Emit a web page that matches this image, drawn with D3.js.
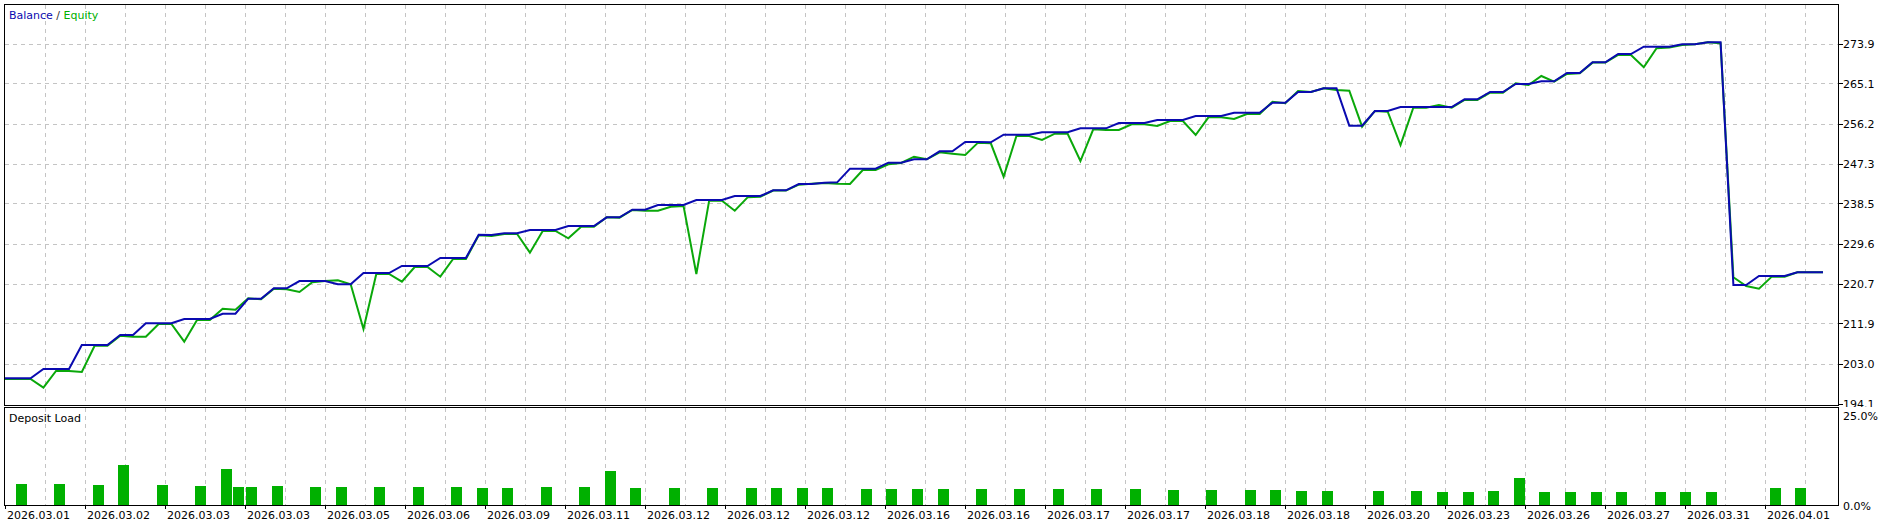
<!DOCTYPE html>
<html>
<head>
<meta charset="utf-8">
<script src="https://cdn.jsdelivr.net/npm/d3@7"></script>
<style>
html, body { margin: 0; padding: 0; background: #fff; }
svg { display: block; font-family: "DejaVu Sans", Verdana, sans-serif; font-size: 11px; }
</style>
</head>
<body>
<svg id="canvas" width="1893" height="525"></svg>
<script>
// balance / equity per deal step
let balance = [
  199.86, 199.86, 199.86, 201.92, 201.92, 201.92, 207.25, 207.25, 207.25, 209.46,
  209.46, 212.06, 212.06, 212.06, 213.01, 213.01, 213.01, 214.18, 214.18, 217.51,
  217.51, 219.81, 219.81, 221.43, 221.43, 221.43, 220.70, 220.70, 223.20, 223.20,
  223.20, 224.76, 224.76, 224.76, 226.53, 226.53, 226.53, 231.70, 231.63, 232.01,
  232.01, 232.74, 232.74, 232.74, 233.62, 233.62, 233.62, 235.55, 235.55, 237.24,
  237.24, 238.28, 238.28, 238.28, 239.39, 239.39, 239.39, 240.27, 240.27, 240.27,
  241.54, 241.54, 242.93, 242.93, 243.22, 243.30, 246.33, 246.33, 246.33, 247.66,
  247.66, 248.41, 248.41, 250.18, 250.18, 252.24, 252.24, 252.18, 253.86, 253.86,
  253.86, 254.39, 254.39, 254.39, 255.28, 255.28, 255.28, 256.46, 256.46, 256.46,
  257.12, 257.12, 257.12, 258.01, 258.01, 258.01, 258.74, 258.74, 258.74, 260.96,
  260.96, 263.33, 263.33, 264.15, 264.15, 255.86, 255.86, 259.12, 259.12, 260.00,
  260.00, 260.00, 260.00, 260.00, 261.71, 261.71, 263.33, 263.33, 265.10, 265.10,
  265.70, 265.70, 267.54, 267.54, 269.91, 269.91, 271.75, 271.75, 273.37, 273.37,
  273.37, 273.90, 273.90, 274.35, 274.35, 220.55, 220.55, 222.54, 222.54, 222.54,
  223.36, 223.36, 223.36
]

let equity = [
  199.71, 199.71, 199.71, 197.78, 201.55, 201.50, 201.26, 207.09, 207.09, 209.30,
  209.09, 209.09, 211.90, 211.90, 207.98, 212.79, 212.79, 215.29, 215.07, 217.60,
  217.38, 219.73, 219.60, 219.00, 221.14, 221.43, 221.59, 220.70, 210.79, 222.98,
  222.98, 221.28, 224.54, 224.54, 222.39, 226.30, 226.30, 231.56, 231.41, 231.85,
  231.85, 227.71, 232.52, 232.52, 230.90, 233.47, 233.47, 235.55, 235.48, 237.17,
  237.02, 237.02, 237.90, 238.05, 222.98, 239.24, 239.24, 237.02, 239.97, 240.12,
  241.47, 241.47, 242.78, 243.00, 243.15, 243.00, 242.93, 246.04, 246.04, 247.30,
  247.60, 248.99, 248.41, 249.96, 249.66, 249.36, 252.10, 251.96, 244.55, 253.57,
  253.57, 252.69, 254.08, 254.08, 248.03, 255.06, 254.90, 254.90, 256.17, 256.17,
  255.79, 256.90, 256.90, 253.80, 257.72, 257.72, 257.34, 258.45, 258.45, 261.18,
  260.82, 263.55, 263.33, 264.15, 263.77, 263.62, 255.64, 259.12, 258.96, 251.58,
  259.85, 259.85, 260.45, 259.85, 261.56, 261.56, 263.17, 263.17, 265.26, 264.88,
  266.88, 265.63, 267.32, 267.47, 269.84, 269.84, 271.53, 271.53, 268.80, 273.02,
  273.17, 273.75, 273.90, 274.35, 274.13, 222.25, 220.32, 219.73, 222.40, 222.40,
  223.36, 223.36, 223.36
]

// deposit load bars: step where it happens and its percent
let loadStep = [
  1, 4, 7, 9, 12, 15, 17, 18, 19, 21, 24, 26, 29, 32, 35, 37, 39, 42, 45, 47,
  49, 52, 55, 58, 60, 62, 64, 67, 69, 71, 73, 76, 79, 82, 85, 88, 91, 94, 97, 99,
  101, 103, 107, 110, 112, 114, 116, 118, 120, 122, 124, 126, 129, 131, 133, 138, 140
]
let loadPct = [
  5.93, 5.93, 5.65, 11.22, 5.65, 5.37, 10.10, 5.09, 5.09, 5.37, 5.09, 5.09, 5.09, 5.09, 5.09, 4.82, 4.82, 5.09, 5.09, 9.55,
  4.82, 4.82, 4.82, 4.82, 4.82, 4.82, 4.82, 4.54, 4.54, 4.54, 4.54, 4.54, 4.54, 4.54, 4.54, 4.54, 4.26, 4.26, 4.26, 4.26,
  3.98, 3.98, 3.98, 3.98, 3.70, 3.70, 3.98, 7.60, 3.70, 3.70, 3.70, 3.70, 3.70, 3.70, 3.70, 4.82, 4.82
]

let dateLabels = [
  '2026.03.01', '2026.03.02', '2026.03.03', '2026.03.03', '2026.03.05', '2026.03.06',
  '2026.03.09', '2026.03.11', '2026.03.12', '2026.03.12', '2026.03.12', '2026.03.16',
  '2026.03.16', '2026.03.17', '2026.03.17', '2026.03.18', '2026.03.18', '2026.03.20',
  '2026.03.23', '2026.03.26', '2026.03.27', '2026.03.31', '2026.04.01'
]
let priceLabels = ['194.1', '203.0', '211.9', '220.7', '229.6', '238.5', '247.3', '256.2', '265.1', '273.9']
let loadLabels = ['0.0%', '25.0%']

let canvas = d3.select('#canvas')

let plotLeft = 4, plotRight = 1838
let mainTop = 4, mainBottom = 405
let subTop = 407, subBottom = 505
let gridStep = 40, labelStep = 80
let gridColor = '#c4c4c4'
let gridDash = '4,4'
let balanceColor = '#0a0ab0'
let equityColor = '#0aa80a'

let x = d3.scaleLinear().domain([0, balance.length - 1]).range([5, 1823])
let y = d3.scaleLinear().domain([+priceLabels[0], +priceLabels[priceLabels.length - 1]]).range([404.3, 44.3])
let yLoad = d3.scaleLinear().domain([0, 25]).range([505.3, 415.5])

let crisp = (v) => Math.round(v) + 0.5

// vertical grid
let gridX = d3.range(plotLeft + 1 + gridStep, plotRight, gridStep)
canvas.append('g')
  .selectAll('line')
  .data(gridX)
  .enter()
  .append('line')
  .attr('x1', d => d + 0.5).attr('x2', d => d + 0.5)
  .attr('y1', mainTop + 1).attr('y2', mainBottom)
  .attr('stroke', gridColor).attr('stroke-dasharray', gridDash)
canvas.append('g')
  .selectAll('line')
  .data(gridX)
  .enter()
  .append('line')
  .attr('x1', d => d + 0.5).attr('x2', d => d + 0.5)
  .attr('y1', subTop + 1).attr('y2', subBottom)
  .attr('stroke', gridColor).attr('stroke-dasharray', gridDash)

// horizontal grid
canvas.append('g')
  .selectAll('line')
  .data(priceLabels.slice(1))
  .enter()
  .append('line')
  .attr('x1', plotLeft + 1).attr('x2', plotRight)
  .attr('y1', d => crisp(y(+d) - 0.5)).attr('y2', d => crisp(y(+d) - 0.5))
  .attr('stroke', gridColor).attr('stroke-dasharray', gridDash)

// deposit load bars
canvas.append('g')
  .selectAll('rect')
  .data(loadStep)
  .enter()
  .append('rect')
  .attr('x', d => Math.round(x(d)) - 2)
  .attr('width', 11)
  .attr('y', (d, i) => Math.round(yLoad(loadPct[i])))
  .attr('height', (d, i) => 505 - Math.round(yLoad(loadPct[i])))
  .attr('fill', '#00b000')

// equity then balance
let line = d3.line().x((d, i) => x(i)).y(d => y(d))
canvas.append('path')
  .attr('d', line(equity))
  .attr('fill', 'none')
  .attr('stroke', equityColor)
  .attr('stroke-width', 2)
canvas.append('path')
  .attr('d', line(balance))
  .attr('fill', 'none')
  .attr('stroke', balanceColor)
  .attr('stroke-width', 2)

// frames
canvas.append('rect')
  .attr('x', plotLeft + 0.5).attr('y', mainTop + 0.5)
  .attr('width', plotRight - plotLeft).attr('height', mainBottom - mainTop)
  .attr('fill', 'none').attr('stroke', '#000')
canvas.append('rect')
  .attr('x', plotLeft + 0.5).attr('y', subTop + 0.5)
  .attr('width', plotRight - plotLeft).attr('height', subBottom - subTop)
  .attr('fill', 'none').attr('stroke', '#000')

// right price axis
let priceAxis = canvas.append('g')
priceAxis.selectAll('line')
  .data(priceLabels)
  .enter()
  .append('line')
  .attr('x1', plotRight + 1).attr('x2', plotRight + 5)
  .attr('y1', d => crisp(y(+d) - 0.5)).attr('y2', d => crisp(y(+d) - 0.5))
  .attr('stroke', '#000')
priceAxis.selectAll('text')
  .data(priceLabels)
  .enter()
  .append('text')
  .attr('x', plotRight + 5)
  .attr('y', d => y(+d) + 4)
  .attr('fill', '#000')
  .text(d => d)

// lower panel covers the bottom of the last price label
canvas.append('rect')
  .attr('x', plotRight + 1).attr('y', subTop)
  .attr('width', 1893 - plotRight).attr('height', 525 - subTop)
  .attr('fill', '#fff')

canvas.append('g')
  .selectAll('text')
  .data(loadLabels)
  .enter()
  .append('text')
  .attr('x', plotRight + 5)
  .attr('y', d => yLoad(parseFloat(d)) + 4.2)
  .attr('fill', '#000')
  .text(d => d)

// date axis
let dateX = (i) => plotLeft + 1 + i * labelStep
canvas.append('g')
  .selectAll('line')
  .data(dateLabels)
  .enter()
  .append('line')
  .attr('x1', (d, i) => dateX(i) + 0.5).attr('x2', (d, i) => dateX(i) + 0.5)
  .attr('y1', subBottom).attr('y2', subBottom + 4)
  .attr('stroke', '#000')
canvas.append('g')
  .selectAll('text')
  .data(dateLabels)
  .enter()
  .append('text')
  .attr('x', (d, i) => dateX(i) + 2)
  .attr('y', 518.5)
  .attr('fill', '#000')
  .text(d => d)

// titles
let title = canvas.append('text').attr('x', 9).attr('y', 19)
title.append('tspan').attr('fill', balanceColor).text('Balance')
title.append('tspan').attr('fill', '#333').text(' / ')
title.append('tspan').attr('fill', '#00b000').text('Equity')

canvas.append('text')
  .attr('x', 9).attr('y', 421.5)
  .attr('fill', '#000')
  .text('Deposit Load')
</script>
</body>
</html>
